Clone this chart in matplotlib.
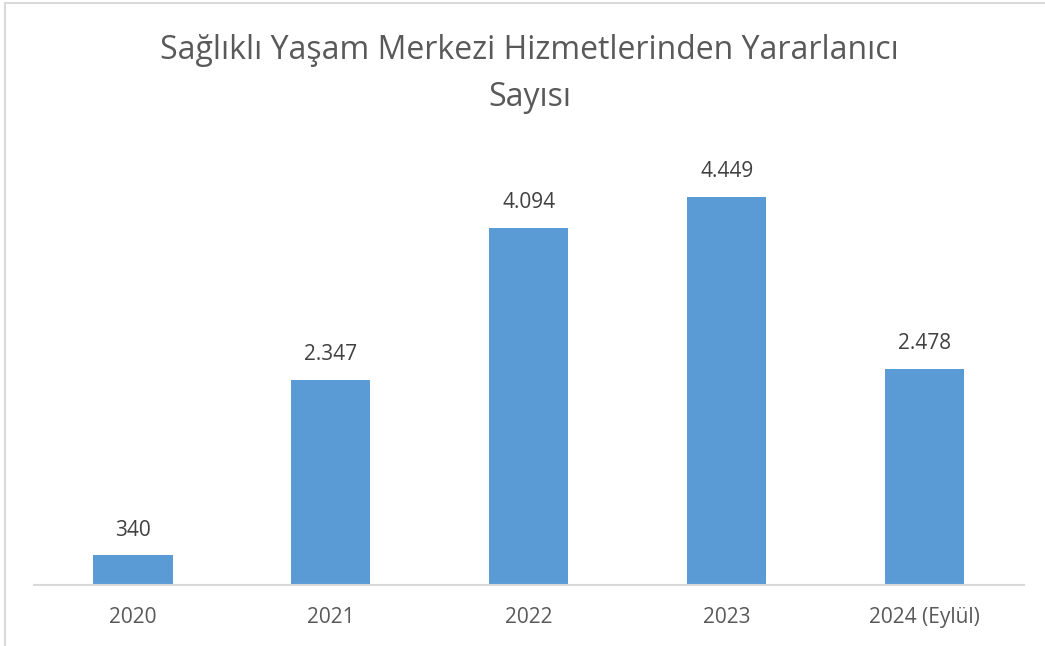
import matplotlib.pyplot as plt
from matplotlib.patches import Rectangle

years = ["2020", "2021", "2022", "2023", "2024 (Eylül)"]
beneficiaries = [340, 2347, 4094, 4449, 2478]


def tr_format(v):
    # Türkçe binlik ayracı nokta
    return f"{v:,}".replace(",", ".")


plt.rcParams['font.family'] = ['Open Sans', 'DejaVu Sans']

fig = plt.figure(figsize=(10.45, 6.46), dpi=100)
ax = fig.add_axes([0.0325, 0.0944, 0.947, 0.689])

bars = ax.bar(range(len(years)), beneficiaries, width=0.4, color="#5B9BD5")
for b, v in zip(bars, beneficiaries):
    ax.text(b.get_x() + b.get_width() / 2, v + 170, tr_format(v),
            ha="center", va="bottom", fontsize=15, color="#404040")

ax.set_xlim(-0.5, len(years) - 0.5)
ax.set_ylim(0, 5100)
ax.set_xticks(range(len(years)))
ax.set_xticklabels(years, fontsize=15, color="#595959")
ax.tick_params(axis="x", length=0, pad=16)
ax.set_yticks([])
for side in ["top", "right", "left"]:
    ax.spines[side].set_visible(False)
ax.spines["bottom"].set_color("#D9D9D9")
ax.spines["bottom"].set_linewidth(1.5)

fig.text(0.507, 0.885, "Sağlıklı Yaşam Merkezi Hizmetlerinden Yararlanıcı\nSayısı",
         ha="center", va="center", fontsize=23, color="#595959", linespacing=1.55)

# dış çerçeve (sol ve üst)
fig.patches.append(Rectangle((0.005, -0.01), 1.2, 1.005, transform=fig.transFigure,
                             fill=False, edgecolor="#D9D9D9", linewidth=1.5))

fig.savefig("out.png", dpi=100)
